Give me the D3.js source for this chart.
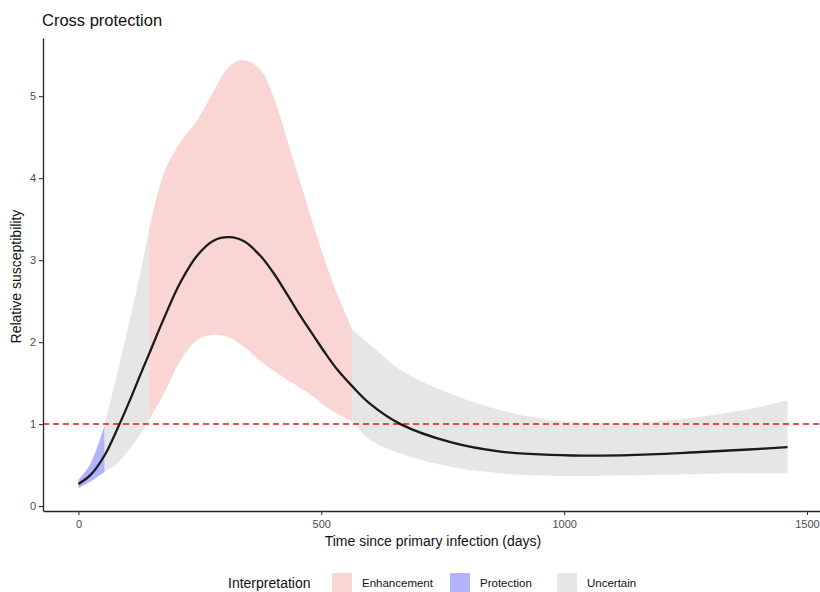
<!DOCTYPE html>
<html>
<head>
<meta charset="utf-8">
<script src="https://cdn.jsdelivr.net/npm/d3@7"></script>
<style>
  body { margin: 0; background: #fff; }
  svg { display: block; font-family: "Liberation Sans", Arial, sans-serif; }
</style>
</head>
<body>
<svg id="chart" width="820" height="592"></svg>
<script>
// values
var days     = [0, 25, 54, 80, 108, 128, 145, 176, 210, 245, 279, 310, 341, 375, 402, 430, 457, 485, 510, 535, 564, 600, 663, 766, 869, 972, 1075, 1178, 1280, 1380, 1460];
var estimate = [0.27, 0.38, 0.62, 0.94, 1.32, 1.61, 1.85, 2.29, 2.73, 3.06, 3.24, 3.28, 3.23, 3.05, 2.84, 2.58, 2.32, 2.07, 1.85, 1.65, 1.46, 1.25, 1.00, 0.78, 0.665, 0.625, 0.615, 0.63, 0.66, 0.69, 0.72];
var lower    = [0.22, 0.30, 0.42, 0.52, 0.72, 0.88, 1.05, 1.37, 1.78, 2.03, 2.09, 2.06, 1.94, 1.77, 1.65, 1.54, 1.44, 1.33, 1.21, 1.12, 1.03, 0.81, 0.64, 0.48, 0.40, 0.37, 0.37, 0.38, 0.39, 0.40, 0.40];
var upper    = [0.32, 0.52, 0.99, 1.62, 2.33, 2.86, 3.36, 4.06, 4.44, 4.71, 5.07, 5.36, 5.44, 5.32, 4.99, 4.46, 3.94, 3.40, 2.95, 2.55, 2.15, 1.97, 1.66, 1.37, 1.17, 1.05, 1.01, 1.03, 1.09, 1.18, 1.29];

// interpretation of each stretch of the ribbon
var breaks = [0, 54, 145, 564, 1460];
var interp = ["Protection", "Uncertain", "Enhancement", "Uncertain"];

var categories = ["Enhancement", "Protection", "Uncertain"];
var fills = ["#f9d5d4", "#b3b3fb", "#e6e6e6"];

var xTicks = [0, 500, 1000, 1500];
var yTicks = [0, 1, 2, 3, 4, 5];

var svg = d3.select("#chart");

var x = d3.scaleLinear().domain([-73, 1533]).range([43, 823]);
var y = d3.scaleLinear().domain([-0.06, 5.71]).range([511, 38]);
var color = d3.scaleOrdinal().domain(categories).range(fills);

var pts = days.map(function (d, i) {
    return { day: d, est: estimate[i], lo: lower[i], hi: upper[i] };
});

var curve = d3.curveCatmullRom.alpha(0.5);

var area = d3.area()
    .curve(curve)
    .x(function (d) { return x(d.day); })
    .y0(function (d) { return y(d.lo); })
    .y1(function (d) { return y(d.hi); });

var line = d3.line()
    .curve(curve)
    .x(function (d) { return x(d.day); })
    .y(function (d) { return y(d.est); });

// ribbon pieces
interp.forEach(function (kind, i) {
    var seg = pts.filter(function (p) { return p.day >= breaks[i] && p.day <= breaks[i + 1]; });
    svg.append("path")
        .attr("d", area(seg))
        .attr("fill", color(kind));
});

// reference line at 1
svg.append("line")
    .attr("x1", 43).attr("x2", 820)
    .attr("y1", y(1)).attr("y2", y(1))
    .attr("stroke", "#e8141a")
    .attr("stroke-width", 1.5)
    .attr("stroke-dasharray", "6,4");

svg.append("path")
    .attr("d", line(pts))
    .attr("fill", "none")
    .attr("stroke", "#1a1a1a")
    .attr("stroke-width", 2.3);

// axes
var xAxis = svg.append("g")
    .attr("transform", "translate(0,511)")
    .call(d3.axisBottom(x).tickValues(xTicks).tickFormat(d3.format("d")).tickSize(4).tickSizeOuter(0));
var yAxis = svg.append("g")
    .attr("transform", "translate(43,0)")
    .call(d3.axisLeft(y).tickValues(yTicks).tickFormat(d3.format("d")).tickSize(4).tickSizeOuter(0));

[xAxis, yAxis].forEach(function (g) {
    g.select(".domain").attr("stroke", "#222").attr("stroke-width", 1.3);
    g.selectAll(".tick line").attr("stroke", "#333").attr("stroke-width", 1.1);
    g.selectAll(".tick text")
        .attr("fill", "#4d4d4d")
        .style("font-family", "Liberation Sans, Arial, sans-serif")
        .style("font-size", "11px");
});
xAxis.selectAll(".tick text").attr("dy", "0.9em");

svg.append("text")
    .attr("x", 42).attr("y", 26)
    .style("font-size", "16.5px")
    .attr("fill", "#111")
    .text("Cross protection");

svg.append("text")
    .attr("x", 433).attr("y", 546)
    .attr("text-anchor", "middle")
    .style("font-size", "14px")
    .attr("fill", "#111")
    .text("Time since primary infection (days)");

svg.append("text")
    .attr("transform", "translate(21," + y(2.8) + ") rotate(-90)")
    .attr("text-anchor", "middle")
    .style("font-size", "14px")
    .attr("fill", "#111")
    .text("Relative susceptibility");

// legend
var legend = svg.append("g").attr("transform", "translate(228,583)");
legend.append("text")
    .attr("x", 0).attr("y", 5)
    .style("font-size", "14px")
    .attr("fill", "#111")
    .text("Interpretation");

var keyX = [104, 222, 329];
categories.forEach(function (c, i) {
    var k = legend.append("g").attr("transform", "translate(" + keyX[i] + ",0)");
    k.append("rect")
        .attr("x", 0).attr("y", -10)
        .attr("width", 20).attr("height", 20)
        .attr("fill", color(c));
    k.append("text")
        .attr("x", 30).attr("y", 4)
        .style("font-size", "11.5px")
        .attr("fill", "#111")
        .text(c);
});
</script>
</body>
</html>
